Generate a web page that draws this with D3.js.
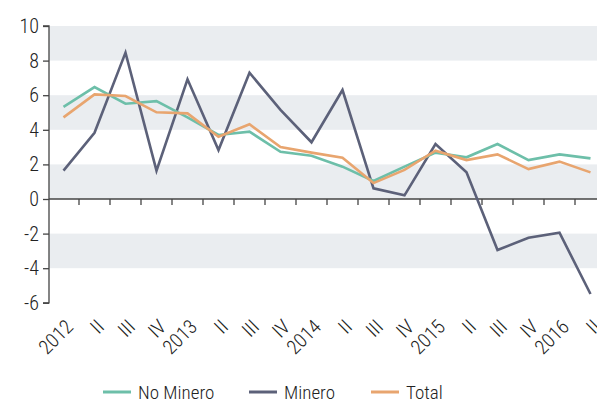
<!DOCTYPE html>
<html><head><meta charset="utf-8">
<script src="https://cdn.jsdelivr.net/npm/d3@7"></script>
<style>
body{margin:0;background:#fff;}
svg{display:block;font-family:"Roboto",sans-serif;font-weight:350;font-stretch:condensed;}
</style></head><body>
<svg id="c" width="597" height="404"></svg>
<script>
const categories = ["2012","II","III","IV","2013","II","III","IV","2014","II","III","IV","2015","II","III","IV","2016","II"];
const noMinero = [5.33,6.47,5.51,5.66,4.72,3.7,3.89,2.73,2.5,1.87,1.04,1.87,2.68,2.41,3.18,2.25,2.58,2.35];
const minero   = [1.64,3.83,8.46,1.64,6.92,2.83,7.3,5.15,3.28,6.3,0.62,0.21,3.18,1.54,-2.95,-2.24,-1.95,-5.49];
const total    = [4.72,6.05,5.95,5.01,4.95,3.6,4.32,3.0,2.68,2.39,0.92,1.68,2.79,2.25,2.58,1.73,2.16,1.54];
const yTicks = [10,8,6,4,2,0,-2,-4,-6];
const bandStripes = [[8,10],[4,6],[0,2],[-4,-2]];
const seriesNames = ["No Minero","Minero","Total"];
const colors = ["#6dbfa9","#5c6179","#e8a56f"];

const svg = d3.select("#c");
const idx = categories.map((d,i)=>i);
const x = d3.scaleBand().domain(idx).range([48, 48+18*31]).paddingInner(0).paddingOuter(0);
const y = d3.scaleLinear().domain([-6,10]).range([302.8,26]);

// stripes
svg.append("g").selectAll("rect").data(bandStripes).join("rect")
  .attr("x", 49).attr("width", 597-49)
  .attr("y", d=>y(d[1])).attr("height", d=>y(d[0])-y(d[1]))
  .attr("fill","#eaedf0");

// y axis
const yAxis = d3.axisLeft(y).tickValues(yTicks).tickSize(6).tickPadding(4).tickFormat(d=>d);
const gy = svg.append("g").attr("transform","translate(49,0)").call(yAxis)
  .attr("font-family",null).attr("font-size",null);
gy.select(".domain").attr("stroke","#444").attr("stroke-width",1.3).attr("d", `M-6,${y(10)}H0V${y(-6)}H-6`);
gy.selectAll(".tick line").attr("stroke","#444").attr("stroke-width",1.3);
gy.selectAll(".tick text").attr("font-size",20).attr("fill","#222");

// x axis at zero
const gx = svg.append("g").attr("transform",`translate(0,${y(0)})`);
gx.append("line").attr("x1",49).attr("x2",597).attr("stroke","#444").attr("stroke-width",1.3);
gx.selectAll("line.t").data(idx.slice(1)).join("line").attr("class","t")
  .attr("x1",d=>x(d)).attr("x2",d=>x(d)).attr("y1",0).attr("y2",6)
  .attr("stroke","#444").attr("stroke-width",1.3);

// x labels
svg.append("g").selectAll("text").data(categories).join("text")
  .attr("transform",(d,i)=>`translate(${x(i)+x.bandwidth()/2+11},${328}) rotate(-45)`)
  .attr("text-anchor","end")
  .attr("font-size",20).attr("fill","#222").text(d=>d);

// lines
const allSeries = [noMinero, minero, total];
const line = d3.line().x((d,i)=>x(i)+x.bandwidth()/2).y(d=>y(d));
const order = [1,0,2];
order.forEach(k=>{
  svg.append("path").datum(allSeries[k]).attr("d",line)
    .attr("fill","none").attr("stroke",colors[k]).attr("stroke-width",2.6)
    .attr("stroke-linejoin","miter");
});

// legend
const legX = [103, 249, 371];
const lg = svg.append("g");
seriesNames.forEach((n,i)=>{
  lg.append("line").attr("x1",legX[i]).attr("x2",legX[i]+28).attr("y1",392).attr("y2",392)
    .attr("stroke",colors[i]).attr("stroke-width",3);
  lg.append("text").attr("x",legX[i]+35).attr("y",392).attr("dy","0.36em")
    .attr("font-size",19).attr("fill","#222").text(n);
});
</script>
</body></html>
